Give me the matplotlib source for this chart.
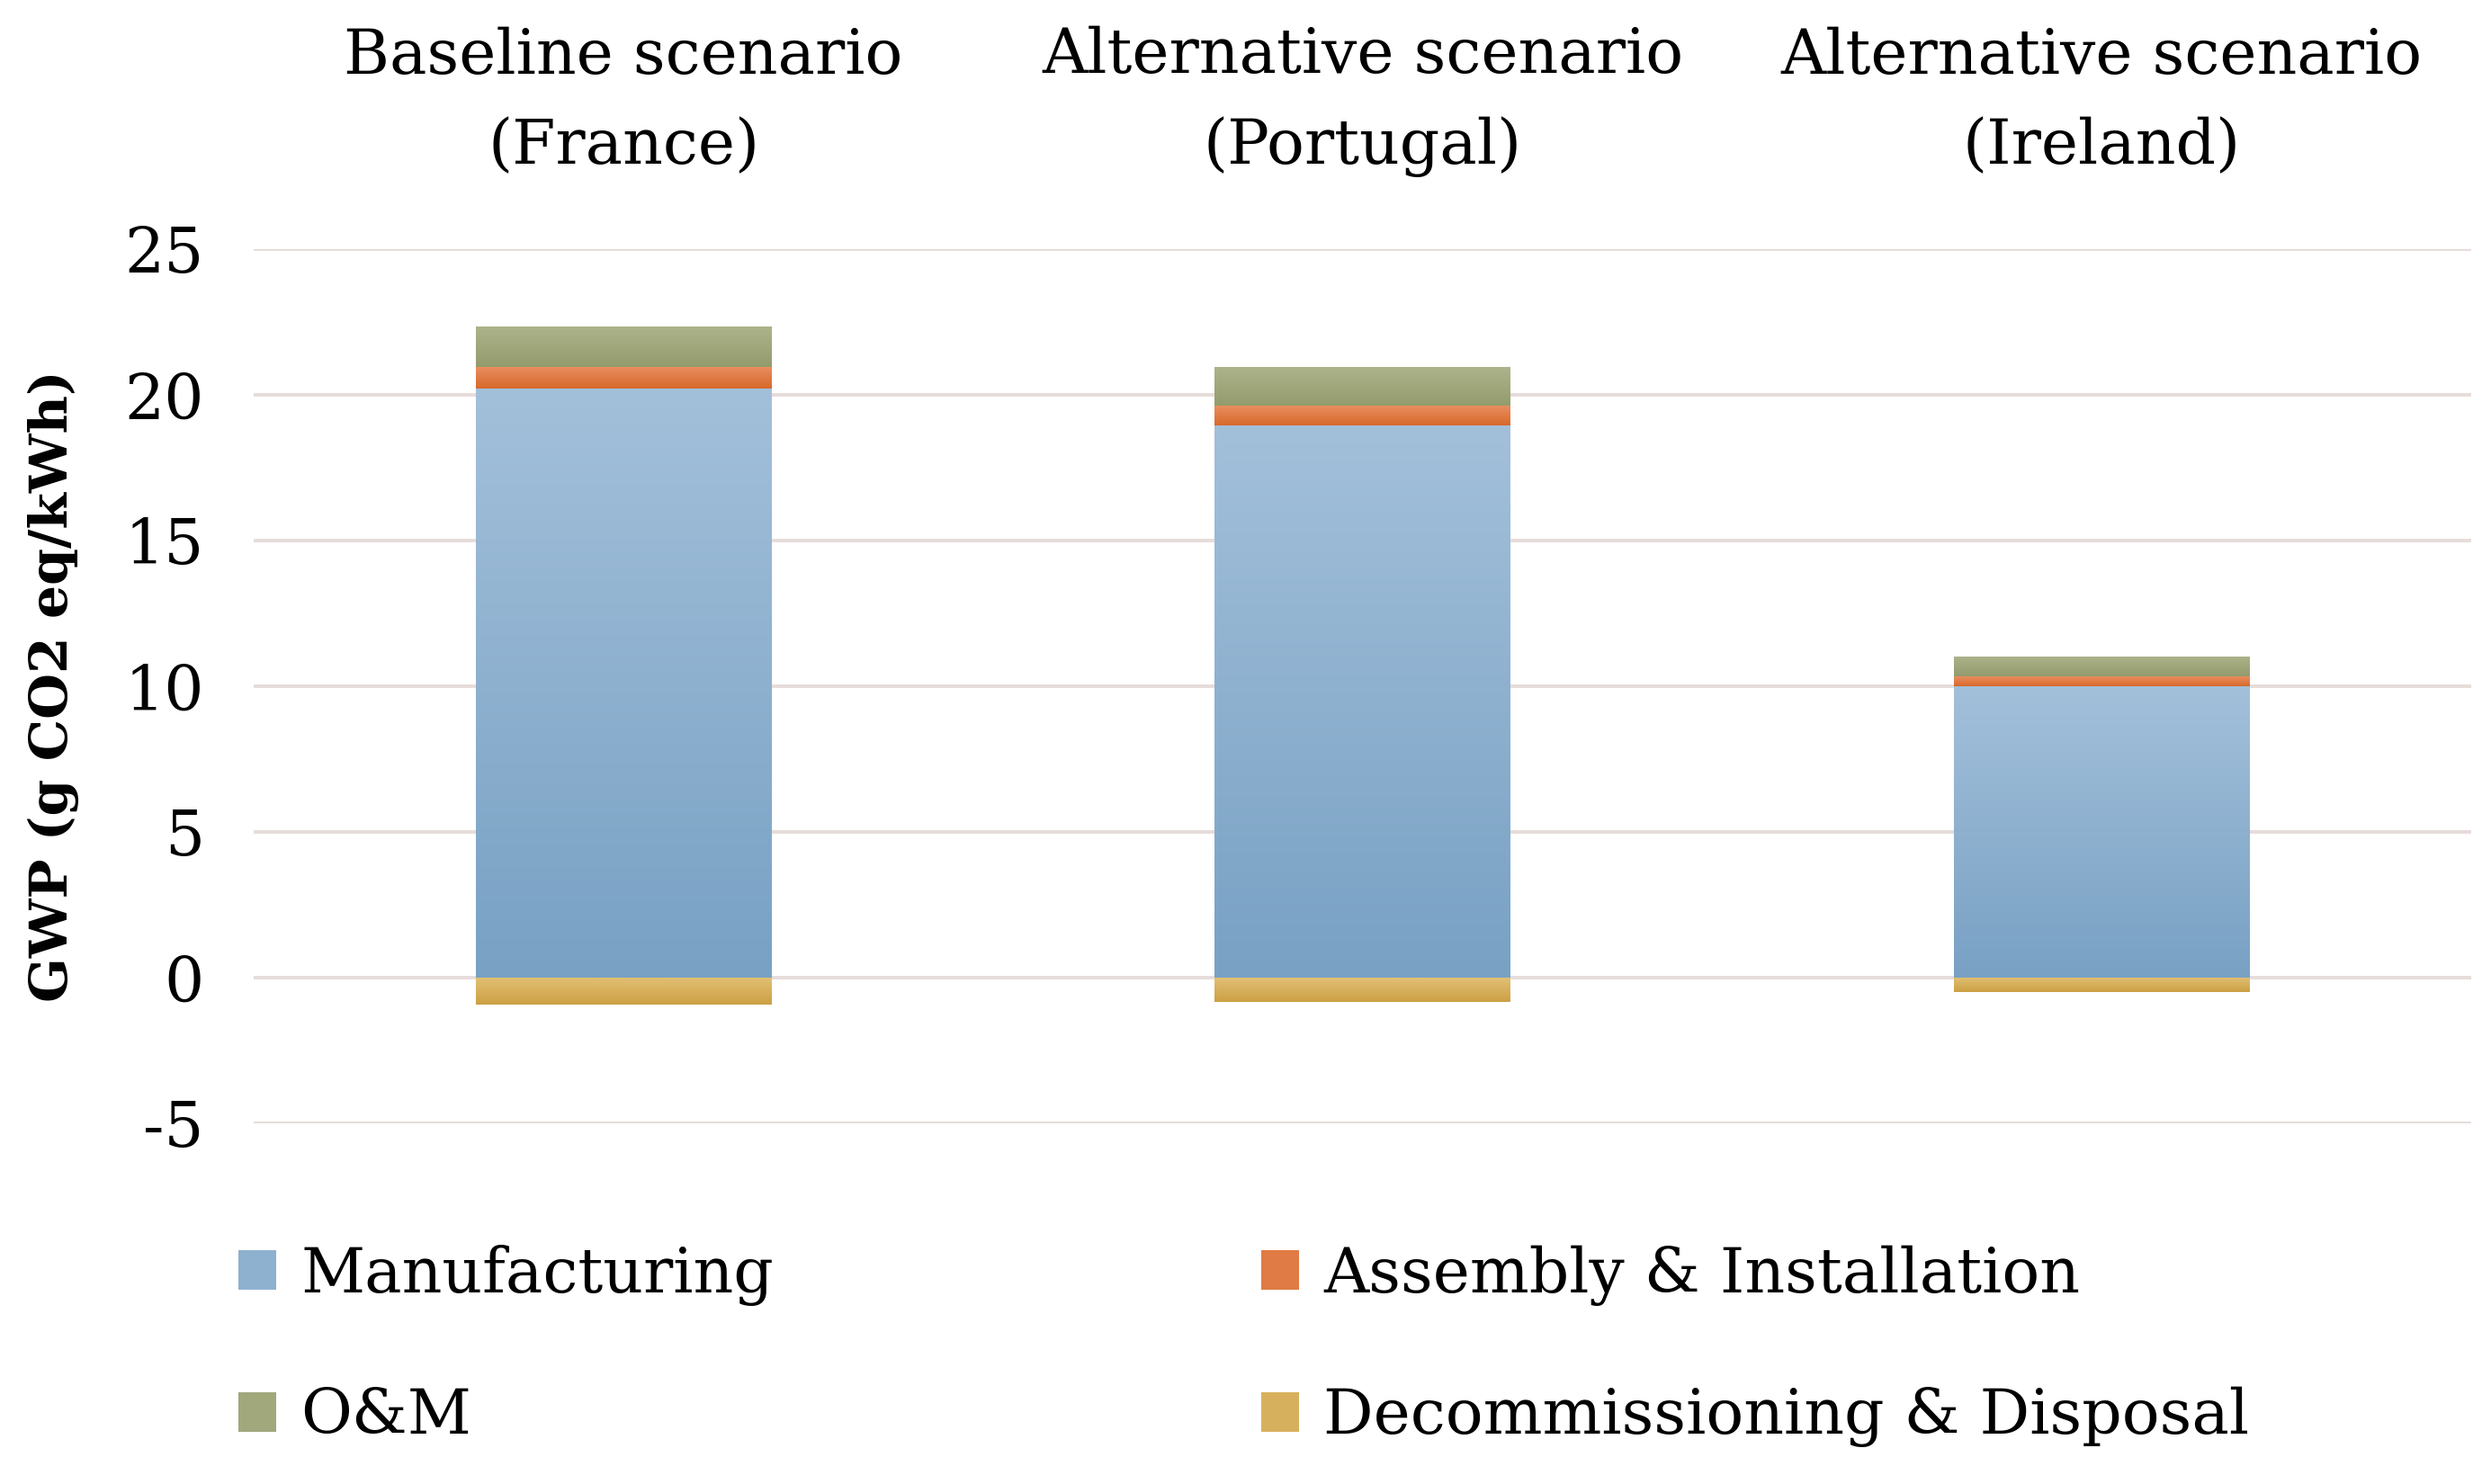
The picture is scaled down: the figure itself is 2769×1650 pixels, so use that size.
import numpy as np
import matplotlib.pyplot as plt
from matplotlib.colors import LinearSegmentedColormap

scenarios = ["Baseline scenario\n(France)", "Alternative scenario\n(Portugal)", "Alternative scenario\n(Ireland)"]
manufacturing = [20.23, 18.96, 10.0]
assembly = [0.74, 0.67, 0.33]
om = [1.39, 1.32, 0.70]
decommissioning = [-0.93, -0.82, -0.50]

yticks = [-5, 0, 5, 10, 15, 20, 25]

# (top colour, bottom colour) - bars are shaded like the Excel original
shades = {
    "Manufacturing": ("#A3C0DA", "#78A1C4"),
    "Assembly & Installation": ("#E88E60", "#D8682A"),
    "O&M": ("#ADB38B", "#939C6D"),
    "Decommissioning & Disposal": ("#E2C075", "#CCA044"),
}

plt.rcParams['font.family'] = ['DejaVu Serif']

fig = plt.figure(figsize=(27.69, 16.5), dpi=100)
ax = fig.add_axes([0.102, 0.243, 0.890, 0.589])

x = np.arange(len(scenarios))
w = 0.40
manuf = np.array(manufacturing)
asm = np.array(assembly)


def mid(c1, c2):
    a = np.array([int(c1[i:i + 2], 16) for i in (1, 3, 5)])
    b = np.array([int(c2[i:i + 2], 16) for i in (1, 3, 5)])
    return tuple((a + b) / 2 / 255)


def shade(bars, name):
    top, bottom = shades[name]
    cmap = LinearSegmentedColormap.from_list(name, [bottom, top])
    grad = np.linspace(0, 1, 256).reshape(-1, 1)
    for r in bars:
        x0, y0 = r.get_x(), r.get_y()
        y1 = y0 + r.get_height()
        lo, hi = min(y0, y1), max(y0, y1)
        im = ax.imshow(grad, extent=[x0, x0 + r.get_width(), lo, hi], origin="lower",
                       aspect="auto", cmap=cmap, zorder=3.5, interpolation="bilinear")
        im.set_clip_path(r)


series = [
    ("Manufacturing", manuf, 0),
    ("Assembly & Installation", asm, manuf),
    ("O&M", np.array(om), manuf + asm),
    ("Decommissioning & Disposal", np.array(decommissioning), 0),
]
for name, vals, base in series:
    bars = ax.bar(x, vals, w, bottom=base, color=mid(*shades[name]), label=name,
                  edgecolor="none", zorder=3)
    shade(bars, name)

ax.set_xlim(-0.5, 2.5)
ax.set_ylim(-5, 25)
ax.set_yticks(yticks)
ax.set_yticklabels([str(v) for v in yticks], fontsize=50)
ax.yaxis.grid(True, color="#E6DCD9", linewidth=2.8, zorder=0)
ax.set_axisbelow(True)
ax.tick_params(axis="y", length=0, pad=40)

ax.xaxis.tick_top()
ax.set_xticks(x)
ax.set_xticklabels(scenarios, fontsize=50, linespacing=1.65)
ax.tick_params(axis="x", length=0, pad=58)

for s in ax.spines.values():
    s.set_visible(False)

ax.set_ylabel("GWP (g CO2 eq/kWh)", fontsize=42, fontweight="bold", labelpad=36)

handles, labels = ax.get_legend_handles_labels()
order = [0, 2, 1, 3]
fig.legend([handles[i] for i in order], [labels[i] for i in order],
           loc="upper left", bbox_to_anchor=(0.0957, 0.1615), ncol=2, frameon=False,
           fontsize=50, handlelength=0.6, handleheight=0.6, handletextpad=0.4,
           columnspacing=7.8, labelspacing=1.3, borderpad=0, borderaxespad=0)

fig.savefig("out.png", dpi=100)
